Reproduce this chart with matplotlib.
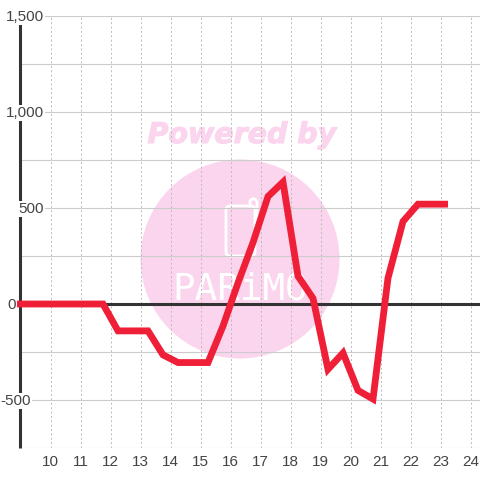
import matplotlib
matplotlib.use('Agg')
import matplotlib.pyplot as plt
import matplotlib.patheffects as pe
from matplotlib.lines import Line2D
from matplotlib.patches import Circle, FancyBboxPatch, Rectangle
from matplotlib.transforms import ScaledTranslation, blended_transform_factory

hours = [8.75, 9.25, 9.75, 10.25, 10.75, 11.25, 11.75, 12.25, 12.75, 13.25, 13.75, 14.25, 14.75, 15.25,
         15.75, 16.25, 16.75, 17.25, 17.75, 18.25, 18.75, 19.25, 19.75, 20.25, 20.75, 21.25, 21.75,
         22.25, 22.75, 23.25]
values = [0, 0, 0, 0, 0, 0, 0, -140, -140, -140, -265, -305, -305, -305,
          -115, 110, 320, 560, 635, 145, 30, -340, -255, -450, -495, 135, 430,
          520, 520, 520]

x_ticks = list(range(10, 25))
y_ticks = [1500, 1000, 500, 0, -500]
y_labels = ['1,500', '1,000', '500', '0', '-500']
y_label_right = [44, 44, 44, 16, 31]  # pixel right edge of each label

plt.rcParams['font.family'] = ['Liberation Sans', 'DejaVu Sans']

fig = plt.figure(figsize=(4.8, 4.8), dpi=100)
ax = fig.add_axes([20 / 480, 32 / 480, 460 / 480, 432 / 480])
ax.set_zorder(1)
ax.patch.set_visible(False)
ax.set_xlim(10 - 30.5 / 30, 10 + 429.5 / 30)
ax.set_ylim(-750, 1500)

# watermark, in pixels of the figure
def px(x, y):
    return x / 480, 1 - y / 480

pink = '#fbd5ee'
fig.patches.append(Circle((240, 480 - 259), 99.5, transform=None, fc=pink, ec='none', zorder=0))
fig.patches.append(FancyBboxPatch((226, 480 - 256), 29, 50, boxstyle='round,pad=0,rounding_size=4',
                                  transform=None, fc='none', ec='white', lw=2, zorder=0.1))
fig.lines.append(Line2D([250, 250, 252, 255, 257, 257], [480 - 206, 480 - 201, 480 - 199, 480 - 199, 480 - 201, 480 - 230],
                        transform=None, color='white', lw=2, zorder=0.1))
fig.text(*px(242, 135), 'Powered by', family='DejaVu Sans', weight='bold', style='italic', size=20.5,
         color=pink, ha='center', va='center', zorder=0.1,
         path_effects=[pe.withStroke(linewidth=0.8, foreground=pink)])
fig.text(*px(240, 289), 'PARiMO', family='DejaVu Sans Mono', size=27, color='white',
         ha='center', va='center', zorder=0.1)

ax.set_yticks(range(-750, 1501, 250))
ax.set_xticks(x_ticks)
ax.grid(True, axis='y', color='#cccccc', lw=0.8)
ax.grid(True, axis='x', color='#bbbbbb', lw=0.7, ls=(0, (2, 2.5)))
ax.set_axisbelow(True)
ax.tick_params(length=0, labelleft=False, labelsize=11, labelcolor='#444444', pad=5)
for s in ['top', 'right', 'bottom']:
    ax.spines[s].set_visible(False)
ax.spines['left'].set_color('#333333')
ax.spines['left'].set_linewidth(2.2)
ax.spines['left'].set_capstyle('butt')
ax.spines['left'].set_zorder(2)

ax.axhline(0, color='#333333', lw=2.2, zorder=2)

line, = ax.plot(hours, values, color='#f01f38', lw=4.9, solid_joinstyle='miter', solid_capstyle='butt', zorder=3)
line.set_clip_path(Rectangle((17, 0), 463, 480, transform=None))

label_trans = blended_transform_factory(fig.transFigure, ax.transData) + ScaledTranslation(0, -1 / 100, fig.dpi_scale_trans)
for v, lab, r in zip(y_ticks, y_labels, y_label_right):
    ax.text(r / 480, v, lab, transform=label_trans,
            ha='right', va='center', fontsize=11, color='#444444', clip_on=False, zorder=4,
            bbox=dict(fc='white', ec='none', pad=0.8))

fig.savefig('out.png', dpi=100)
